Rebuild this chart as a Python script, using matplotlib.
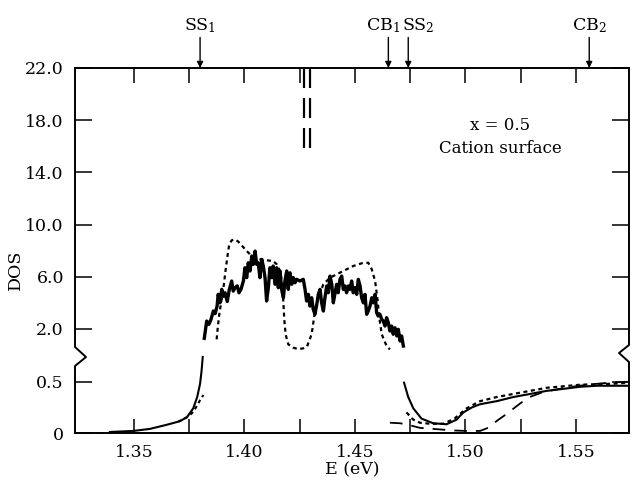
import matplotlib
matplotlib.use('Agg')
import matplotlib.pyplot as plt
from matplotlib.lines import Line2D

plt.rcParams['font.family'] = ['DejaVu Serif']
plt.rcParams['mathtext.fontset'] = 'dejavuserif'
plt.rcParams['mathtext.default'] = 'regular'

# ---------------- data (upper, expanded DOS scale) ----------------
E_solid_up = [1.3818, 1.3829, 1.3839, 1.3848, 1.3859, 1.3867, 1.3876, 1.3881, 1.3889, 1.3897,
              1.3904, 1.3912, 1.3922, 1.3931, 1.3942, 1.3949, 1.3957, 1.3967, 1.3975, 1.3984,
              1.3995, 1.4002, 1.4010, 1.4017, 1.4025, 1.4033, 1.4040, 1.4048, 1.4055, 1.4062,
              1.4070, 1.4078, 1.4085, 1.4093, 1.4100, 1.4108, 1.4115, 1.4123, 1.4130, 1.4138,
              1.4146, 1.4153, 1.4161, 1.4168, 1.4176, 1.4183, 1.4191, 1.4198, 1.4206, 1.4214,
              1.4221, 1.4229, 1.4236, 1.4251, 1.4266, 1.4274, 1.4281, 1.4289, 1.4296, 1.4304,
              1.4311, 1.4319, 1.4327, 1.4334, 1.4342, 1.4349, 1.4357, 1.4364, 1.4372, 1.4379,
              1.4387, 1.4395, 1.4402, 1.4410, 1.4417, 1.4424, 1.4432, 1.4440, 1.4447, 1.4455,
              1.4462, 1.4470, 1.4477, 1.4485, 1.4492, 1.4500, 1.4508, 1.4515, 1.4523, 1.4530,
              1.4538, 1.4545, 1.4553, 1.4560, 1.4568, 1.4576, 1.4583, 1.4591, 1.4598, 1.4605,
              1.4613, 1.4621, 1.4628, 1.4636, 1.4643, 1.4651, 1.4658, 1.4666, 1.4673, 1.4681,
              1.4689, 1.4696, 1.4704, 1.4711, 1.4719]
DOS_solid_up = [1.28, 2.6, 2.35, 2.7, 3.37, 3.17, 3.75, 4.65, 4.0, 5.03,
                4.5, 4.77, 4.1, 5.0, 5.67, 4.9, 5.16, 5.3, 4.77, 5.03,
                5.67, 6.69, 5.93, 7.07, 6.44, 7.59, 6.95, 7.97, 6.95, 7.07,
                5.93, 7.33, 6.82, 5.93, 4.14, 5.16, 6.69, 5.93, 6.82, 5.42,
                6.69, 5.16, 6.44, 5.03, 4.39, 5.67, 6.44, 5.03, 6.3, 5.42,
                5.93, 5.54, 5.8, 5.67, 5.8, 5.03, 4.14, 4.65, 3.75, 4.39,
                3.5, 3.12, 3.88, 4.65, 5.03, 4.0, 3.37, 4.39, 5.29, 4.77,
                6.05, 5.42, 4.0, 4.77, 5.42, 4.77, 5.8, 6.05, 5.03, 5.29,
                4.77, 5.29, 5.03, 5.67, 4.77, 5.16, 4.65, 5.8, 5.29, 4.39,
                4.0, 4.65, 3.12, 3.37, 3.75, 4.39, 4.0, 4.65, 3.25, 2.99,
                3.12, 2.74, 2.6, 2.22, 2.86, 2.48, 1.84, 2.22, 1.59, 2.09,
                1.46, 1.97, 1.07, 1.46, 0.69]

E_dot_up = [1.3874, 1.3879, 1.3885, 1.3894, 1.3904, 1.3914, 1.3923, 1.3931, 1.3942, 1.3957,
            1.3972, 1.3990, 1.4010, 1.4033, 1.4055, 1.4079, 1.4105, 1.4130, 1.4146, 1.4161,
            1.4171, 1.4176, 1.4180, 1.4186, 1.4198, 1.4221, 1.4243, 1.4266, 1.4283, 1.4304,
            1.4319, 1.4334, 1.4357, 1.4387, 1.4417, 1.4447, 1.4492, 1.4538, 1.4560, 1.4576,
            1.4591, 1.4601, 1.4610, 1.4621, 1.4643, 1.4658]
DOS_dot_up = [1.2, 2.09, 3.0, 4.0, 5.03, 6.44, 7.59, 8.48, 8.79, 8.86,
              8.69, 8.35, 7.97, 7.59, 7.41, 7.3, 7.25, 7.2, 6.95, 6.44,
              5.42, 4.0, 2.74, 1.59, 0.82, 0.56, 0.45, 0.51, 0.65, 1.6,
              3.37, 4.39, 5.42, 5.93, 6.18, 6.44, 6.82, 7.07, 7.07, 6.57,
              5.67, 4.39, 2.86, 1.59, 0.69, 0.43]

# bound states (dashed vertical lines)
E_bound = [1.4269, 1.4296]
DOS_bound_low = 15.3
DOS_bound_high = 22.0

# ---------------- data (lower, compressed DOS scale) ----------------
E_solid_lo_left = [1.3391, 1.3497, 1.3572, 1.3648, 1.3708, 1.3740, 1.3768, 1.3786, 1.3799, 1.3806, 1.3811]
DOS_solid_lo_left = [0.01, 0.02, 0.04, 0.08, 0.115, 0.155, 0.24, 0.35, 0.48, 0.61, 0.74]

E_dot_lo_left = [1.3700, 1.3746, 1.3770, 1.3786, 1.3799, 1.3814]
DOS_dot_lo_left = [0.11, 0.16, 0.21, 0.27, 0.32, 0.37]

E_solid_lo_right = [1.4722, 1.4741, 1.4764, 1.4801, 1.4854, 1.4914, 1.4960, 1.4990, 1.5030, 1.5066,
                    1.5141, 1.5216, 1.5292, 1.5367, 1.5443, 1.5518, 1.5593, 1.5669, 1.5740]
DOS_solid_lo_right = [0.49, 0.35, 0.24, 0.14, 0.095, 0.085, 0.13, 0.20, 0.25, 0.28,
                      0.31, 0.35, 0.38, 0.41, 0.43, 0.45, 0.46, 0.46, 0.46]

E_dot_lo_right = [1.4733, 1.4764, 1.4794, 1.4840, 1.4900, 1.4950, 1.5005, 1.5066, 1.5141, 1.5216,
                  1.5292, 1.5367, 1.5443, 1.5518, 1.5593, 1.5669, 1.5740]
DOS_dot_lo_right = [0.20, 0.13, 0.10, 0.09, 0.09, 0.14, 0.24, 0.31, 0.35, 0.38,
                    0.41, 0.44, 0.455, 0.47, 0.475, 0.48, 0.49]

E_dash_lo = [1.4658, 1.4704, 1.4740, 1.4794, 1.4853, 1.4943, 1.5005, 1.5066, 1.5102, 1.5143,
             1.5176, 1.5249, 1.5290, 1.5353, 1.5450, 1.5550, 1.5650, 1.5740]
DOS_dash_lo = [0.10, 0.095, 0.08, 0.05, 0.04, 0.025, 0.02, 0.02, 0.05, 0.12,
               0.17, 0.29, 0.35, 0.40, 0.44, 0.47, 0.49, 0.50]

# axis ticks / labels
upper_yticks = [2.0, 6.0, 10.0, 14.0, 18.0, 22.0]
upper_yticklabels = ['2.0', '6.0', '10.0', '14.0', '18.0', '22.0']
lower_yticks = [0.0, 0.5]
lower_yticklabels = ['0', '0.5']
x_major = [1.35, 1.40, 1.45, 1.50, 1.55]
x_major_labels = ['1.35', '1.40', '1.45', '1.50', '1.55']
x_minor = [1.375, 1.425, 1.475, 1.525]

marker_E = [1.3799, 1.4651, 1.4741, 1.5560]
marker_labels = ['SS$_1$', 'CB$_1$', 'SS$_2$', 'CB$_2$']
marker_text_dx = [0, -4, 7, 0]   # points, label offset from arrow

# ---------------- figure ----------------
W, H = 632, 482
fig = plt.figure(figsize=(W / 100, H / 100), dpi=100)
x0, x1 = 75, 629
y_top, y_brk, y_bot = 68, 355, 433
ax_top = fig.add_axes([x0 / W, 1 - y_brk / H, (x1 - x0) / W, (y_brk - y_top) / H])
ax_bot = fig.add_axes([x0 / W, 1 - y_bot / H, (x1 - x0) / W, (y_bot - y_brk) / H])

xlim = (1.3233, 1.5740)
for ax in (ax_top, ax_bot):
    ax.set_xlim(*xlim)
    ax.patch.set_visible(False)
    for s in ('left', 'right'):
        ax.spines[s].set_visible(False)
ax_top.spines['bottom'].set_visible(False)
ax_bot.spines['top'].set_visible(False)
ax_top.spines['top'].set_linewidth(1.4)
ax_bot.spines['bottom'].set_linewidth(1.4)

ax_top.set_ylim(0, 22.0)
ax_bot.set_ylim(0, 0.7595)

tick_fs = 12.5

# ticks - upper
ax_top.set_yticks(upper_yticks)
ax_top.set_yticklabels(upper_yticklabels)
ax_top.tick_params(axis='y', which='both', left=True, right=True, direction='in',
                   length=12, width=1.1, labelsize=tick_fs, pad=8)
ax_top.set_xticks(x_major)
ax_top.set_xticks(x_minor, minor=True)
ax_top.tick_params(axis='x', which='both', top=True, bottom=False, labeltop=False,
                   labelbottom=False, direction='in', length=11, width=1.1)

# ticks - lower
ax_bot.set_yticks(lower_yticks)
ax_bot.set_yticklabels(lower_yticklabels)
ax_bot.tick_params(axis='y', which='both', left=True, right=True, direction='in',
                   length=12, width=1.1, labelsize=tick_fs, pad=8)
ax_bot.set_xticks(x_major)
ax_bot.set_xticklabels(x_major_labels)
ax_bot.set_xticks(x_minor, minor=True)
ax_bot.tick_params(axis='x', which='both', bottom=True, top=False, direction='in',
                   length=10, width=1.1, labelsize=tick_fs, pad=8)

# curves - upper
ax_top.plot(E_solid_up, DOS_solid_up, color='black', lw=2.4, solid_joinstyle='round')
ax_top.plot(E_dot_up, DOS_dot_up, color='black', lw=1.6, linestyle=(0, (1.8, 1.6)))
for e in E_bound:
    ax_top.plot([e, e], [DOS_bound_high, DOS_bound_low], color='black', lw=1.6,
                linestyle=(0, (9, 4.5)))

# curves - lower
ax_bot.plot(E_solid_lo_left, DOS_solid_lo_left, color='black', lw=1.5)
ax_bot.plot(E_dot_lo_left, DOS_dot_lo_left, color='black', lw=1.5, linestyle=(0, (1.8, 1.6)))
ax_bot.plot(E_solid_lo_right, DOS_solid_lo_right, color='black', lw=1.5)
ax_bot.plot(E_dot_lo_right, DOS_dot_lo_right, color='black', lw=1.6, linestyle=(0, (1.8, 1.6)))
ax_bot.plot(E_dash_lo, DOS_dash_lo, color='black', lw=1.3, linestyle=(0, (7, 5)))

# broken left / right axis lines with zig-zags
left_line = [(x0, y_top), (x0, 347), (86, 357), (x0, 366), (x0, y_bot)]
right_line = [(x1, y_top), (x1, 345), (619, 353), (x1, 362), (x1, y_bot)]
for pts in (left_line, right_line):
    fig.add_artist(Line2D([p[0] / W for p in pts], [1 - p[1] / H for p in pts],
                          transform=fig.transFigure, color='black', lw=1.4))

# markers with arrows at the top
for e, lab, dx in zip(marker_E, marker_labels, marker_text_dx):
    ax_top.annotate('', xy=(e, 1.0), xycoords=('data', 'axes fraction'),
                    xytext=(0, 22), textcoords='offset points',
                    arrowprops=dict(arrowstyle='-|>', color='black', lw=1.0,
                                    mutation_scale=9, shrinkA=0, shrinkB=0),
                    annotation_clip=False)
    ax_top.annotate(lab, xy=(e, 1.0), xycoords=('data', 'axes fraction'),
                    xytext=(dx, 27), textcoords='offset points', ha='center',
                    va='baseline', fontsize=12.5, annotation_clip=False)

ax_top.text(0.767, 0.801, 'x = 0.5', transform=ax_top.transAxes, ha='center',
            va='center', fontsize=12)
ax_top.text(0.767, 0.721, 'Cation surface', transform=ax_top.transAxes, ha='center',
            va='center', fontsize=12)

fig.text(15 / W, 1 - 270 / H, 'DOS', rotation=90, ha='center', va='center', fontsize=12.5)
fig.text(352 / W, 1 - 470 / H, 'E (eV)', ha='center', va='center', fontsize=12.5)

fig.savefig('out.png', dpi=100)
